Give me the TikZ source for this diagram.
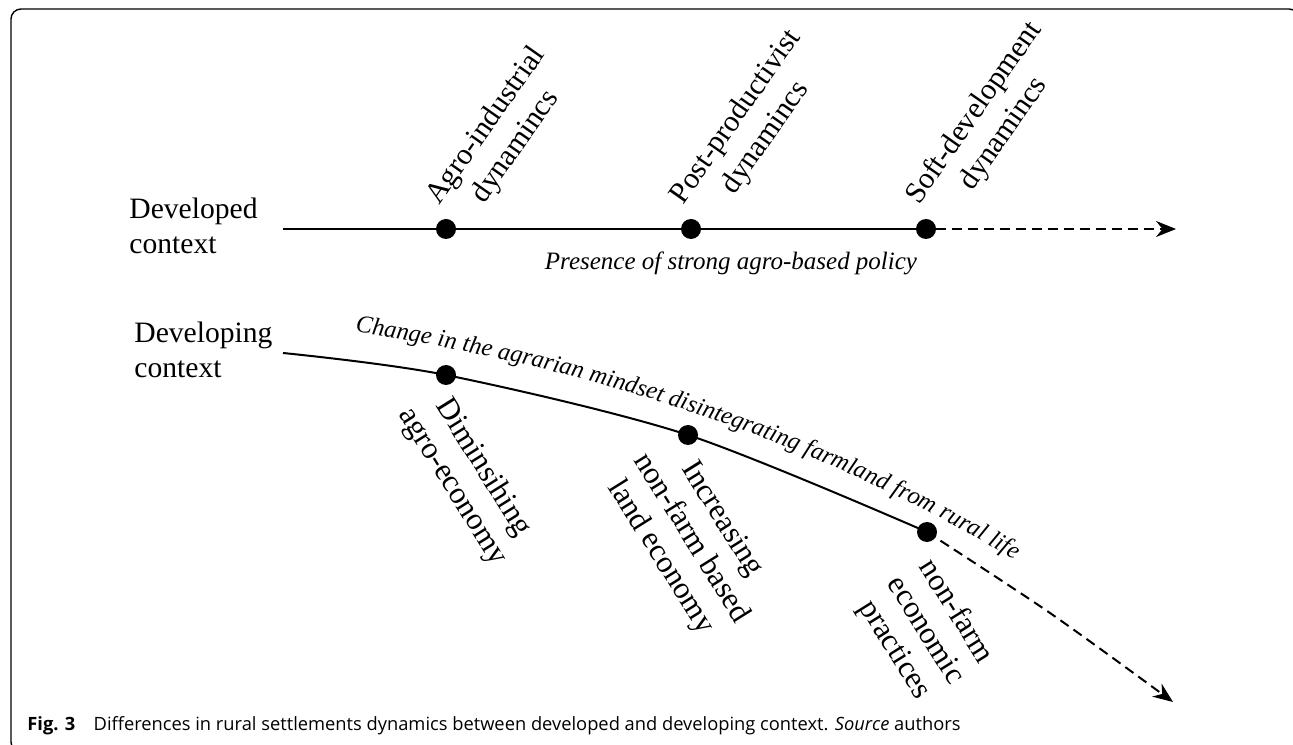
\documentclass[tikz,border=0pt]{standalone}
\usepackage{fontspec}
\setmainfont{Liberation Serif}
\newfontfamily\capfont{Open Sans}
\usetikzlibrary{arrows.meta,decorations.text}

\begin{document}
\begin{tikzpicture}[x=0.5pt,y=0.5pt,
    bullet/.style={circle,fill=black,inner sep=0pt,minimum size=10pt},
    track/.style={line width=1pt},
    dtrack/.style={line width=1pt,dash pattern=on 5pt off 3pt,-{Stealth[length=10pt,width=8pt]}},
    ctx/.style={align=left,anchor=north west,inner sep=0pt,font=\fontsize{14.8}{17.5}\selectfont},
    upl/.style={rotate=55,align=center,anchor=north,inner sep=0pt,font=\fontsize{15}{18}\selectfont},
    downl/.style={rotate=-58,align=center,anchor=north,inner sep=0pt,font=\fontsize{15.5}{18}\selectfont}]
    \clip (0,0) rectangle (1293,744);
    \draw[line width=0.7pt,rounded corners=5pt] (11,-8) rectangle (1299,735);

    % developed context
    \node[ctx] (dev) at (129,546) {Developed\\context};
    \coordinate (u0) at (283,515);
    \node[bullet] (u1) at (446,515) {};
    \node[bullet] (u2) at (691,515) {};
    \node[bullet] (u3) at (926,515) {};
    \coordinate (u4) at (1176,515);

    \draw[track] (u0) -- (u1) -- (u2) -- (u3);
    \draw[dtrack] (u3) -- (u4);

    \node[upl] (agro) at (475,626) {Agro-industrial\\dynamincs};
    \node[upl] (post) at (725,635) {Post-productivist\\dynamincs};
    \node[upl] (soft) at (963,639) {Soft-development\\dynamincs};
    \node[anchor=base,font=\fontsize{12.5}{15}\selectfont\itshape] (policy) at (731,474) {Presence of strong agro-based policy};

    % developing context
    \node[ctx] (devg) at (134,422) {Developing\\context};
    \coordinate (l0) at (283,391);
    \node[bullet] (l1) at (446,369) {};
    \node[bullet] (l2) at (688,309) {};
    \node[bullet] (l3) at (927,212) {};
    \coordinate (lm) at (1050,131);
    \coordinate (l4) at (1173,42);

    \draw[track] plot[smooth] coordinates {(l0) (l1.center) (l2.center) (l3.center)};
    \draw[dtrack] plot[smooth] coordinates {(l3.center) (lm) (l4)};

    \begin{scope}[shift={(355,412)}]
    \path[decorate,decoration={text along path,text align=left,
        text={|\fontsize{12.3}{15}\selectfont\itshape|Change in the agrarian mindset disintegrating farmland from rural life}}]
        (0,0) .. controls (282,-42) and (531,-136) .. (745,-282);
    \end{scope}

    \node[downl] (dimin) at (495,284) {Diminsihing\\agro-economy};
    \node[downl] (incr) at (733,232) {Increasing\\non-farm based\\land economy};
    \node[downl] (nonf) at (968,140) {non-farm\\economic\\practices};

    \node[anchor=base west,inner sep=0pt] (cap) at (27,14) {\capfont\fontsize{9.15}{10}\selectfont\textbf{Fig. 3}\quad Differences in rural settlements dynamics between developed and developing context. \textit{Source} authors};
\end{tikzpicture}
\end{document}
